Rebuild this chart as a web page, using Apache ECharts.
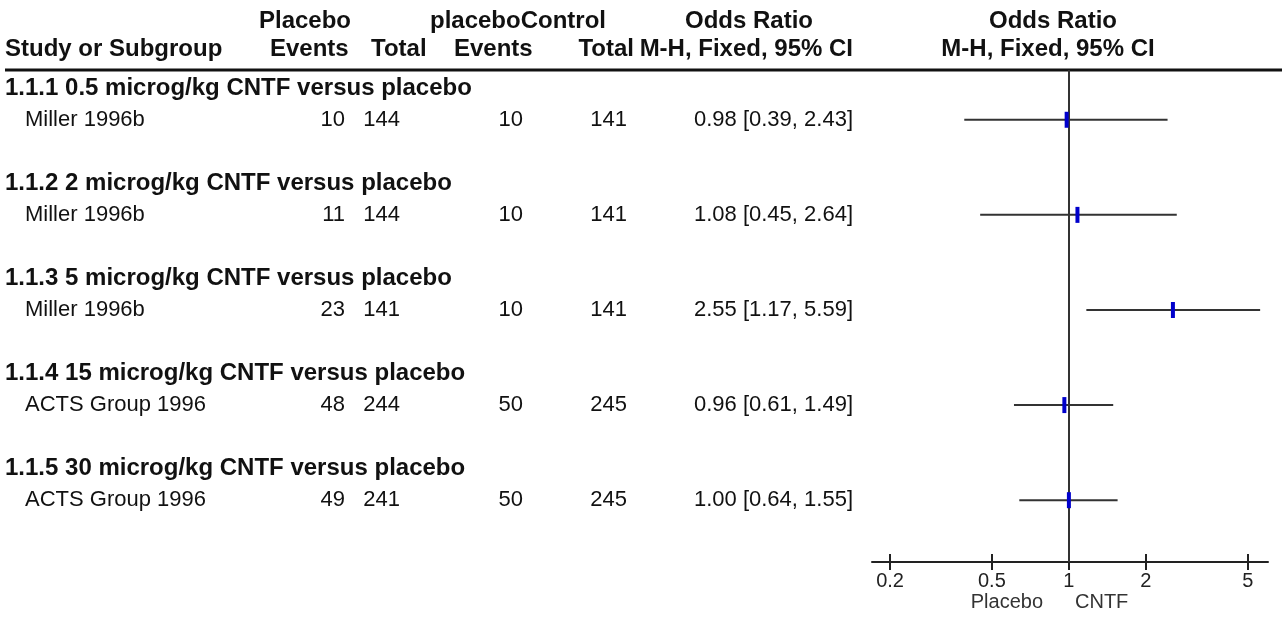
<!DOCTYPE html>
<html>
<head>
<meta charset="utf-8">
<script src="https://cdn.jsdelivr.net/npm/echarts@6/dist/echarts.min.js"></script>
<style>
  html, body { margin: 0; padding: 0; background: #fff; }
  #chart { width: 1282px; height: 621px; }
</style>
</head>
<body>
<div id="chart"></div>
<script>
// Subgroups and their single trial each
const subgroups = [
  '1.1.1 0.5 microg/kg CNTF versus placebo',
  '1.1.2 2 microg/kg CNTF versus placebo',
  '1.1.3 5 microg/kg CNTF versus placebo',
  '1.1.4 15 microg/kg CNTF versus placebo',
  '1.1.5 30 microg/kg CNTF versus placebo'
];
const studies = ['Miller 1996b', 'Miller 1996b', 'Miller 1996b', 'ACTS Group 1996', 'ACTS Group 1996'];
const placeboEvents = [10, 11, 23, 48, 49];
const placeboTotal = [144, 144, 141, 244, 241];
const controlEvents = [10, 10, 10, 50, 50];
const controlTotal = [141, 141, 141, 245, 245];
const oddsRatio = [0.98, 1.08, 2.55, 0.96, 1.00];
const ciLower = [0.39, 0.45, 1.17, 0.61, 0.64];
const ciUpper = [2.43, 2.64, 5.59, 1.49, 1.55];
const axisTicks = [0.2, 0.5, 1, 2, 5];
const axisRange = [0.17, 6];

const log = Math.log10;
const FONT = '"Liberation Sans", Arial, sans-serif';
const normalFont = '22px ' + FONT;
const boldFont = 'bold 24px ' + FONT;
const ink = '#111';

// each subgroup takes a title row, a study row and a blank row
const subRow = i => 3 * i;
const studyRow = i => 3 * i + 1;
const rowMin = -0.57, rowMax = 14.95;

const textRows = [];
subgroups.forEach((s, i) => {
  textRows.push([0, subRow(i), 'sub', i]);
  textRows.push([0, studyRow(i), 'study', i]);
});

const fmt = v => v.toFixed(2);

function renderTextRow(params, api) {
  const row = api.value(1);
  const kind = textRows[params.dataIndex][2];
  const i = textRows[params.dataIndex][3];
  const y = api.coord([0, row])[1];
  const t = (text, x, align, font) => ({
    type: 'text',
    style: { text: String(text), x: x, y: y, align: align, verticalAlign: 'middle', font: font || normalFont, fill: ink }
  });
  if (kind === 'sub') {
    return { type: 'group', children: [t(subgroups[i], 5, 'left', boldFont)] };
  }
  return {
    type: 'group',
    children: [
      t(studies[i], 25, 'left'),
      t(placeboEvents[i], 345, 'right'),
      t(placeboTotal[i], 400, 'right'),
      t(controlEvents[i], 523, 'right'),
      t(controlTotal[i], 627, 'right'),
      t(fmt(oddsRatio[i]) + ' [' + fmt(ciLower[i]) + ', ' + fmt(ciUpper[i]) + ']', 853, 'right')
    ]
  };
}

const ciData = oddsRatio.map((v, i) => [log(ciLower[i]), log(ciUpper[i]), studyRow(i)]);
const pointData = oddsRatio.map((v, i) => [log(v), studyRow(i)]);

function renderCI(params, api) {
  const a = api.coord([api.value(0), api.value(2)]);
  const b = api.coord([api.value(1), api.value(2)]);
  return {
    type: 'line',
    shape: { x1: a[0], y1: a[1], x2: b[0], y2: b[1] },
    style: { stroke: '#333', lineWidth: 2 }
  };
}

const tickVals = axisTicks.map(log);
const tickLabel = v => {
  const k = axisTicks.find(t => Math.abs(log(t) - v) < 1e-6);
  return k === undefined ? '' : String(k);
};

const headerText = (text, x, y, align) => ({
  type: 'text',
  style: { text: text, x: x, y: y, align: align, verticalAlign: 'middle', font: boldFont, fill: ink }
});

const plotRect = { left: 872, top: 70, width: 396, height: 492, containLabel: false };
const tickStyle = { color: '#222', width: 2 };

const chart = echarts.init(document.getElementById('chart'), null, { renderer: 'canvas' });
chart.setOption({
  backgroundColor: '#fff',
  animation: false,
  // two overlapping grids so the ticks can cross the axis line
  grid: [plotRect, Object.assign({}, plotRect)],
  xAxis: [
    {
      type: 'value', gridIndex: 0, min: log(axisRange[0]), max: log(axisRange[1]), position: 'bottom',
      splitLine: { show: false },
      axisLine: { show: true, onZero: false, lineStyle: { color: '#222', width: 2 } },
      axisTick: { show: true, customValues: tickVals, length: 8, lineStyle: tickStyle },
      axisLabel: { show: true, customValues: tickVals, formatter: tickLabel, margin: 9,
        fontFamily: FONT, fontSize: 20, color: '#222' }
    },
    {
      type: 'value', gridIndex: 1, min: log(axisRange[0]), max: log(axisRange[1]), position: 'bottom',
      splitLine: { show: false },
      axisLine: { show: false, onZero: false },
      axisTick: { show: true, inside: true, customValues: tickVals, length: 8, lineStyle: tickStyle },
      axisLabel: { show: false }
    }
  ],
  yAxis: [
    { type: 'value', gridIndex: 0, inverse: true, min: rowMin, max: rowMax, show: false },
    { type: 'value', gridIndex: 1, inverse: true, min: rowMin, max: rowMax, show: false }
  ],
  series: [
    {
      type: 'custom', name: 'table', renderItem: renderTextRow, data: textRows, clip: false, silent: true,
      encode: { x: 0, y: 1 }
    },
    {
      type: 'custom', name: 'ci', renderItem: renderCI, data: ciData, silent: true,
      encode: { x: [0, 1], y: 2 }
    },
    {
      type: 'scatter', name: 'Odds Ratio', data: pointData, symbol: 'rect', symbolSize: [4, 16],
      itemStyle: { color: '#0000cc', opacity: 1 }, silent: true, z: 5,
      markLine: {
        silent: true, symbol: 'none', label: { show: false },
        lineStyle: { color: '#333', width: 2, type: 'solid', opacity: 1 },
        data: [{ xAxis: 0 }]
      }
    }
  ],
  graphic: [
    headerText('Placebo', 305, 21, 'center'),
    headerText('placeboControl', 518, 21, 'center'),
    headerText('Odds Ratio', 749, 21, 'center'),
    headerText('Odds Ratio', 1053, 21, 'center'),
    headerText('Study or Subgroup', 5, 49, 'left'),
    headerText('Events', 270, 49, 'left'),
    headerText('Total', 371, 49, 'left'),
    headerText('Events', 454, 49, 'left'),
    headerText('Total', 634, 49, 'right'),
    headerText('M-H, Fixed, 95% CI', 853, 49, 'right'),
    headerText('M-H, Fixed, 95% CI', 1048, 49, 'center'),
    { type: 'line', shape: { x1: 5, y1: 70, x2: 1282, y2: 70 }, style: { stroke: '#111', lineWidth: 3 } },
    { type: 'text', style: { text: 'Placebo', x: 1043, y: 602, align: 'right', verticalAlign: 'middle',
        font: '20px ' + FONT, fill: '#333' } },
    { type: 'text', style: { text: 'CNTF', x: 1075, y: 602, align: 'left', verticalAlign: 'middle',
        font: '20px ' + FONT, fill: '#333' } }
  ]
});
</script>
</body>
</html>
